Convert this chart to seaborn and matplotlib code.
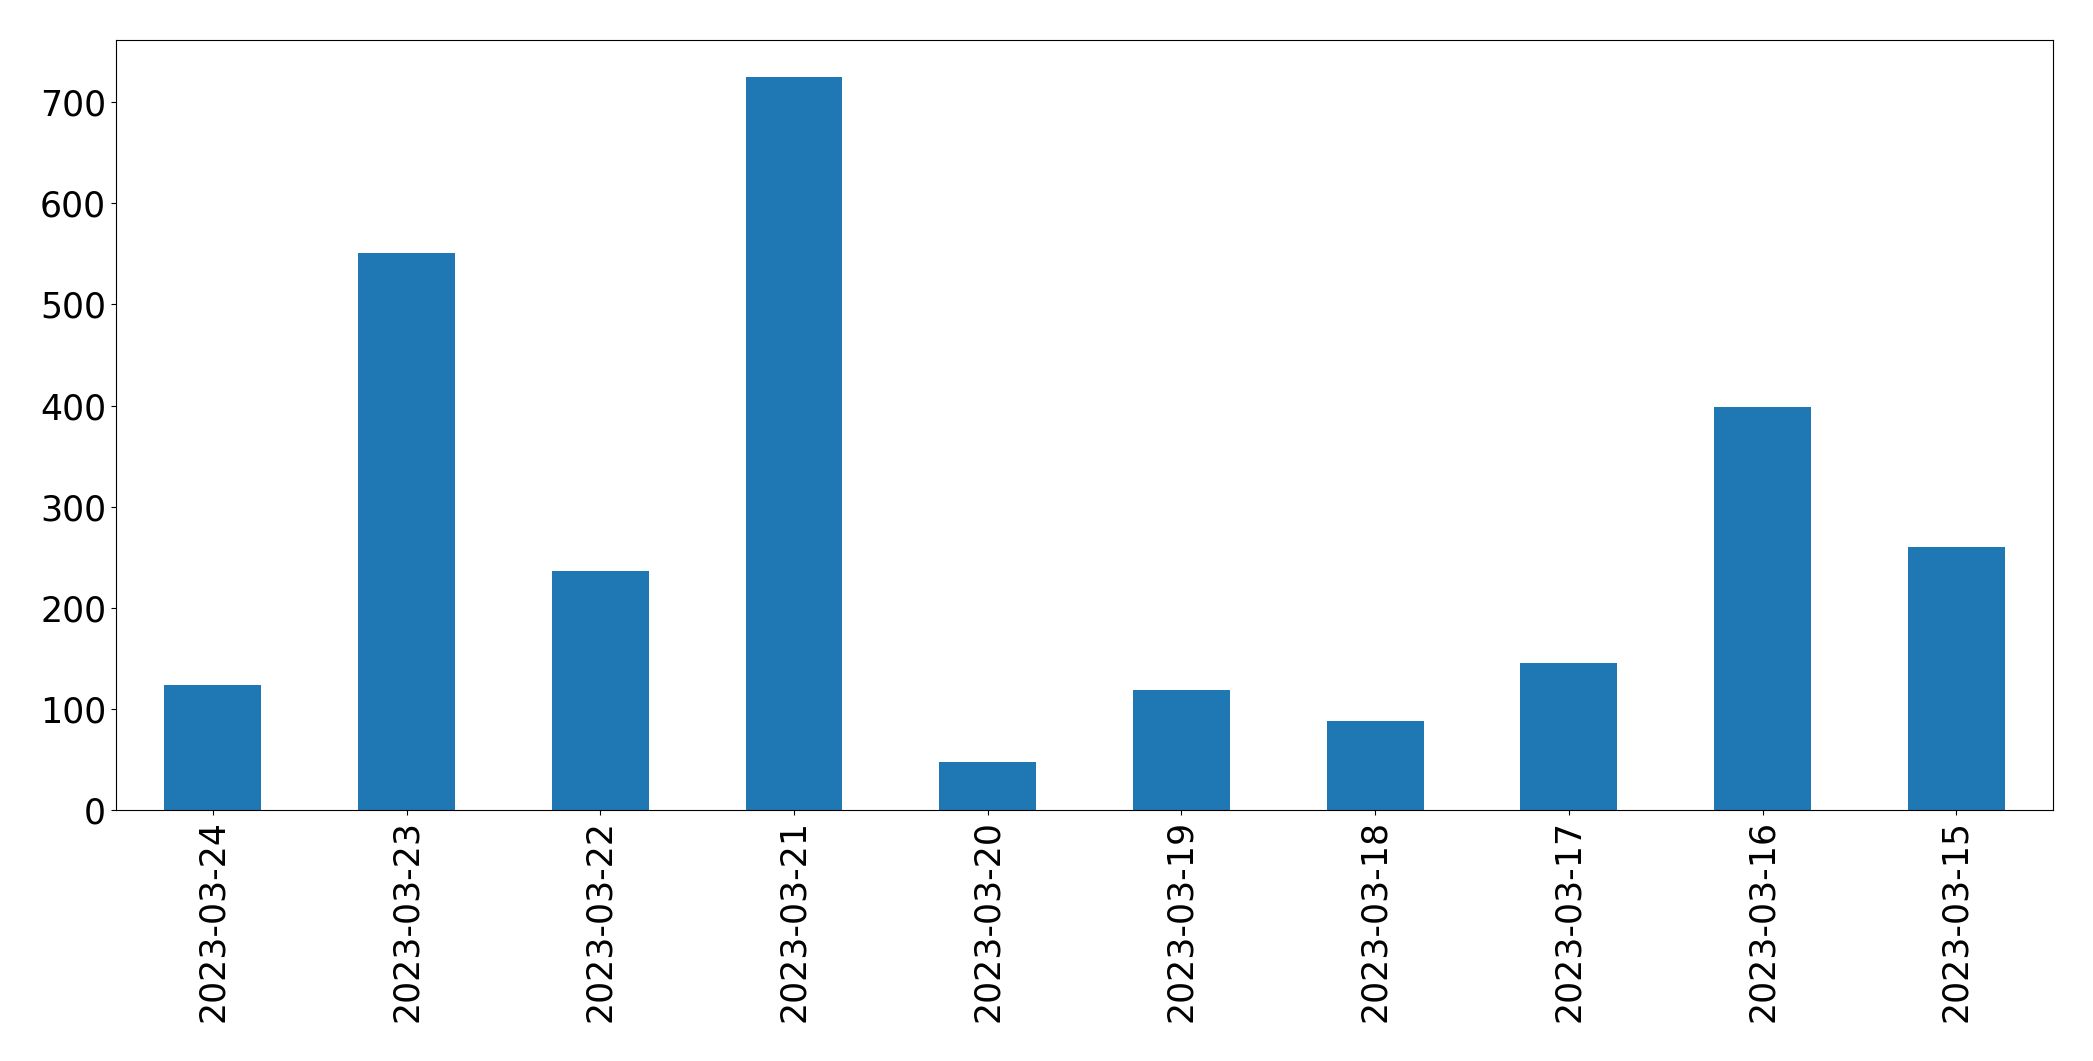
"""
Bar chart of daily counts, newest date first.
"""

import pandas as pd
import matplotlib
matplotlib.use("Agg")
import matplotlib.pyplot as plt
import seaborn as sns

dates = [
    "2023-03-24", "2023-03-23", "2023-03-22", "2023-03-21", "2023-03-20",
    "2023-03-19", "2023-03-18", "2023-03-17", "2023-03-16", "2023-03-15",
]
counts = [124, 551, 236, 725, 47, 119, 88, 145, 399, 260]

bar_color = "#1f77b4"


def plot_counts():
    data = pd.DataFrame({"date": dates, "count": counts})

    fig, ax = plt.subplots(figsize=(20.93, 10.61), dpi=100)
    sns.barplot(data=data, x="date", y="count", order=dates, color=bar_color,
                saturation=1, width=0.5, linewidth=0, ax=ax)

    ax.set_xlim(-0.5, len(dates) - 0.5)
    ax.set_xlabel("")
    ax.set_ylabel("")
    ax.tick_params(axis="both", labelsize=25)
    ax.tick_params(axis="x", labelrotation=90)
    for spine in ax.spines.values():
        spine.set_color("black")

    fig.subplots_adjust(left=0.0554, right=0.981, top=0.962, bottom=0.2366)
    fig.savefig("out.png", dpi=100)


if __name__ == "__main__":
    plot_counts()
